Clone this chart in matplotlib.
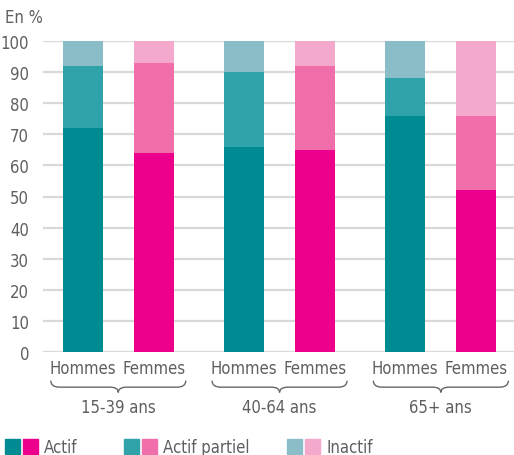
import numpy as np
import matplotlib
matplotlib.use("Agg")
import matplotlib.pyplot as plt
from matplotlib.path import Path
from matplotlib.patches import PathPatch, Rectangle
import matplotlib.transforms as mtransforms

plt.rcParams['font.family'] = ['DejaVu Sans']
plt.rcParams['font.stretch'] = 'condensed'

# --- data ---
groups = ['15-39 ans', '40-64 ans', '65+ ans']
sexes = ['Hommes', 'Femmes']
actif_h = [72, 66, 76]
partiel_h = [20, 24, 12]
inactif_h = [8, 10, 12]
actif_f = [64, 65, 52]
partiel_f = [29, 27, 24]
inactif_f = [7, 8, 24]
yticks = list(range(0, 101, 10))

col_h = ['#008B92', '#2FA2AA', '#8ABDC8']
col_f = ['#EC008C', '#F06EA9', '#F4A8CB']
txt = '#5f5f5f'
fs = 12

fig = plt.figure(figsize=(5.14, 4.56), dpi=100)
ax = fig.add_axes([43 / 514, 1 - 353 / 456, 471 / 514, 311 / 456])

step_in, step_out = 1.0, 1.27
xh = np.array([i * (step_in + step_out) for i in range(len(groups))])
xf = xh + step_in
w = 0.56

for x, vals, cols in [(xh, (actif_h, partiel_h, inactif_h), col_h),
                      (xf, (actif_f, partiel_f, inactif_f), col_f)]:
    bottom = np.zeros(len(groups))
    for v, c in zip(vals, cols):
        ax.bar(x, v, width=w, bottom=bottom, color=c, zorder=3)
        bottom += np.array(v)

ax.set_ylim(0, 100)
ax.set_xlim(-0.56, 6.07)
ax.set_yticks(yticks)
ax.set_yticklabels([str(t) for t in yticks], fontsize=fs, color=txt)
ax.tick_params(axis='y', length=0, pad=10)
ax.grid(axis='y', color='#d9d9d9', linewidth=1.6, zorder=0)
ax.set_axisbelow(True)
for s in ax.spines.values():
    s.set_visible(False)

xs = np.sort(np.concatenate([xh, xf]))
ax.set_xticks(xs)
ax.set_xticklabels(sexes * len(groups), fontsize=fs, color=txt)
ax.tick_params(axis='x', length=0, pad=5)

# braces and group labels
trans = mtransforms.blended_transform_factory(ax.transData, ax.transAxes)
y_top, y_mid, y_bot = -0.092, -0.113, -0.13
r = 0.12
for g, x0 in zip(groups, xh):
    a, b = x0 - 0.45, x0 + step_in + 0.45
    c = (a + b) / 2
    verts = [(a, y_top), (a, y_mid), (a + r, y_mid),
             (c - r, y_mid), (c, y_mid), (c, y_bot),
             (c, y_mid), (c + r, y_mid),
             (b - r, y_mid), (b, y_mid), (b, y_top)]
    codes = [Path.MOVETO, Path.CURVE3, Path.CURVE3,
             Path.LINETO, Path.CURVE3, Path.CURVE3,
             Path.CURVE3, Path.CURVE3,
             Path.LINETO, Path.CURVE3, Path.CURVE3]
    ax.add_patch(PathPatch(Path(verts, codes), transform=trans, fill=False,
                           edgecolor='#666666', linewidth=1.0, clip_on=False))
    ax.text(c, -0.176, g, transform=trans, ha='center', va='center',
            fontsize=fs, color=txt)

fig.text(5 / 514, 1 - 18 / 456, 'En %', fontsize=fs, color=txt, va='center')

# legend
legend_items = [('Actif', 0), ('Actif partiel', 1), ('Inactif', 2)]
lx = [5, 124, 287]
for (lab, i), x in zip(legend_items, lx):
    for k, c in enumerate([col_h[i], col_f[i]]):
        fig.patches.append(Rectangle(((x + k * 18) / 514, 1 - 455 / 456), 15 / 514, 15 / 456,
                                     transform=fig.transFigure, color=c))
    fig.text((x + 39) / 514, 1 - 448 / 456, lab, fontsize=fs, color=txt, va='center')

fig.savefig('out.png', dpi=100)
